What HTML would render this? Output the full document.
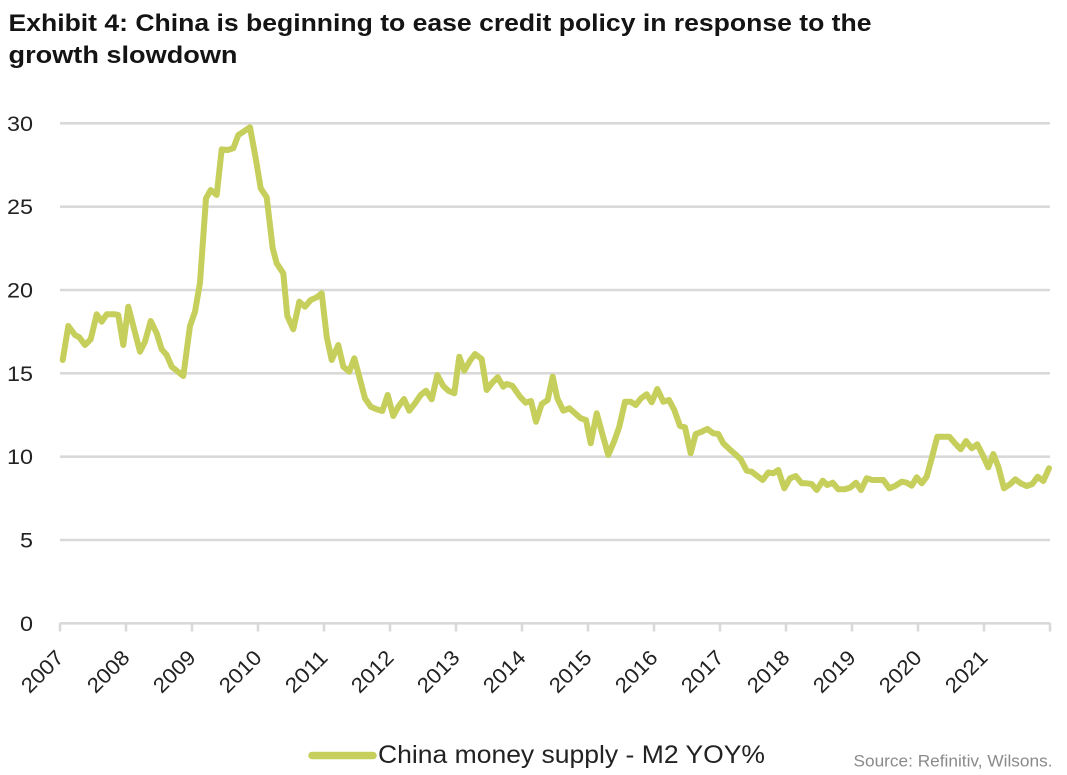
<!DOCTYPE html>
<html>
<head>
<meta charset="utf-8">
<style>
  html, body { margin:0; padding:0; background:#ffffff; }
  body { width:1067px; height:775px; overflow:hidden; }
  svg { display:block; }
  text { font-family: "Liberation Sans", "DejaVu Sans", sans-serif; }
</style>
</head>
<body>
<svg width="1067" height="775" viewBox="0 0 1067 775" xmlns="http://www.w3.org/2000/svg">
  <rect x="0" y="0" width="1067" height="775" fill="#ffffff"/>

  <!-- Title -->
  <text x="8.5" y="31" font-size="24" font-weight="bold" fill="#141414" textLength="863" lengthAdjust="spacingAndGlyphs">Exhibit 4: China is beginning to ease credit policy in response to the</text>
  <text x="8.5" y="63" font-size="24" font-weight="bold" fill="#141414" textLength="229" lengthAdjust="spacingAndGlyphs">growth slowdown</text>

  <!-- Gridlines -->
  <g stroke="#d9d9d9" stroke-width="2.6" fill="none">
    <line x1="60" y1="123.3" x2="1050" y2="123.3"/>
    <line x1="60" y1="206.7" x2="1050" y2="206.7"/>
    <line x1="60" y1="290" x2="1050" y2="290"/>
    <line x1="60" y1="373.3" x2="1050" y2="373.3"/>
    <line x1="60" y1="456.7" x2="1050" y2="456.7"/>
    <line x1="60" y1="540" x2="1050" y2="540"/>
    <line x1="60" y1="623.3" x2="1050" y2="623.3"/>
  </g>
  <!-- X ticks -->
  <g stroke="#d9d9d9" stroke-width="2.6">
    <line x1="60" y1="623" x2="60" y2="631.5"/>
    <line x1="126" y1="623" x2="126" y2="631.5"/>
    <line x1="192" y1="623" x2="192" y2="631.5"/>
    <line x1="258" y1="623" x2="258" y2="631.5"/>
    <line x1="324" y1="623" x2="324" y2="631.5"/>
    <line x1="390" y1="623" x2="390" y2="631.5"/>
    <line x1="456" y1="623" x2="456" y2="631.5"/>
    <line x1="522" y1="623" x2="522" y2="631.5"/>
    <line x1="588" y1="623" x2="588" y2="631.5"/>
    <line x1="654" y1="623" x2="654" y2="631.5"/>
    <line x1="720" y1="623" x2="720" y2="631.5"/>
    <line x1="786" y1="623" x2="786" y2="631.5"/>
    <line x1="852" y1="623" x2="852" y2="631.5"/>
    <line x1="918" y1="623" x2="918" y2="631.5"/>
    <line x1="984" y1="623" x2="984" y2="631.5"/>
    <line x1="1050" y1="623" x2="1050" y2="631.5"/>
  </g>

  <!-- Y labels -->
  <g font-size="21" fill="#222222" text-anchor="end">
    <text x="33" y="130.8" textLength="26" lengthAdjust="spacingAndGlyphs">30</text>
    <text x="33" y="214.2" textLength="26" lengthAdjust="spacingAndGlyphs">25</text>
    <text x="33" y="297.5" textLength="26" lengthAdjust="spacingAndGlyphs">20</text>
    <text x="33" y="380.8" textLength="26" lengthAdjust="spacingAndGlyphs">15</text>
    <text x="33" y="464.2" textLength="26" lengthAdjust="spacingAndGlyphs">10</text>
    <text x="33" y="547.5" textLength="13" lengthAdjust="spacingAndGlyphs">5</text>
    <text x="33" y="630.8" textLength="13" lengthAdjust="spacingAndGlyphs">0</text>
  </g>

  <!-- X labels -->
  <g font-size="21" fill="#222222" text-anchor="middle">
    <text transform="translate(42,671.3) rotate(-45)" x="0" y="7.5" textLength="50" lengthAdjust="spacingAndGlyphs">2007</text>
    <text transform="translate(108,671.3) rotate(-45)" x="0" y="7.5" textLength="50" lengthAdjust="spacingAndGlyphs">2008</text>
    <text transform="translate(174,671.3) rotate(-45)" x="0" y="7.5" textLength="50" lengthAdjust="spacingAndGlyphs">2009</text>
    <text transform="translate(240,671.3) rotate(-45)" x="0" y="7.5" textLength="50" lengthAdjust="spacingAndGlyphs">2010</text>
    <text transform="translate(306,671.3) rotate(-45)" x="0" y="7.5" textLength="50" lengthAdjust="spacingAndGlyphs">2011</text>
    <text transform="translate(372,671.3) rotate(-45)" x="0" y="7.5" textLength="50" lengthAdjust="spacingAndGlyphs">2012</text>
    <text transform="translate(438,671.3) rotate(-45)" x="0" y="7.5" textLength="50" lengthAdjust="spacingAndGlyphs">2013</text>
    <text transform="translate(504,671.3) rotate(-45)" x="0" y="7.5" textLength="50" lengthAdjust="spacingAndGlyphs">2014</text>
    <text transform="translate(570,671.3) rotate(-45)" x="0" y="7.5" textLength="50" lengthAdjust="spacingAndGlyphs">2015</text>
    <text transform="translate(636,671.3) rotate(-45)" x="0" y="7.5" textLength="50" lengthAdjust="spacingAndGlyphs">2016</text>
    <text transform="translate(702,671.3) rotate(-45)" x="0" y="7.5" textLength="50" lengthAdjust="spacingAndGlyphs">2017</text>
    <text transform="translate(768,671.3) rotate(-45)" x="0" y="7.5" textLength="50" lengthAdjust="spacingAndGlyphs">2018</text>
    <text transform="translate(834,671.3) rotate(-45)" x="0" y="7.5" textLength="50" lengthAdjust="spacingAndGlyphs">2019</text>
    <text transform="translate(900,671.3) rotate(-45)" x="0" y="7.5" textLength="50" lengthAdjust="spacingAndGlyphs">2020</text>
    <text transform="translate(966,671.3) rotate(-45)" x="0" y="7.5" textLength="50" lengthAdjust="spacingAndGlyphs">2021</text>
  </g>

  <!-- Series -->
  <polyline fill="none" stroke="#c6cf5c" stroke-width="6" stroke-linejoin="round" stroke-linecap="round"
    points="62.7,360 68.3,326 75,335 79.3,337.3 85,345 90.7,339.3 96.7,314.3 101.7,321.7 106.7,314.3 115,314.3 118.3,315 123.3,345 128.3,306.7 140,351.7 145,341.7 150.7,321 156.7,333.3 161.7,349.3 166.7,355 171.7,366.7 176.7,370.7 183.3,376 190,326 195,311.7 200,282.7 206,198.3 210.7,190 216.7,195 221.7,149.3 227.7,150 233.3,148.3 238.3,135 243.3,131.7 250,127.3 256,160 260.7,188.3 266.7,197.3 272.7,248.3 276.7,263.3 283.3,273.3 287.3,316 293.3,329.3 299.3,301.7 305,306.7 310.7,300 316.7,297.3 321.7,293.3 326.7,336.7 331.7,360 338.3,345 343.3,366.7 349.3,371.7 354.3,358.3 359.3,376.7 365,398.3 370.7,406.7 376.7,409.3 382.3,411 387.7,395 393.3,416 398.3,406.7 404,399 409.3,410.7 415,403.3 420.7,395 426,390.7 431.7,399.3 437.3,375 443.3,386 448.3,390.7 454.3,393.3 459.3,356.7 464.3,370.7 470,360.7 475,354 481.7,359 486.7,390 492.3,382.7 497.7,377.3 503.3,386.7 506.7,384 512.3,385.7 520,396.7 525.7,402.7 531,401 536,421.7 541.7,404 547.7,400 552.7,376.7 557.3,398.3 563.3,410.7 569.3,408.3 575,413.3 580.7,418.3 586,420 590.7,443.3 596.7,413.3 601.7,431.7 608.3,455 614,441.7 619.3,426.7 625,401.7 630.7,401.7 635.7,405 641,398.3 646.7,394.3 651.7,402.3 657.3,389 663.3,401.7 669,400 674.3,410 680,426 685,427.3 690.7,453.3 695.7,434 701.7,431.7 707.3,429 713.3,433.3 718.3,434 723.3,443.3 729.3,449 735,454 740.7,459.3 746.7,470.7 751.7,471.7 757.3,476 762.7,480 768.3,472.5 773.3,473.3 778.3,470 784.3,488.3 790,478.3 795.7,476 801.7,483.3 806.7,483.3 811.7,484 816.7,490 822.7,480.7 827.3,485 832.7,482.7 838.3,489.3 844.3,489.3 850,487.7 856,482.7 861,490 866.7,478.3 872.3,480 877.7,480 883.3,480 889.3,488.3 895,486 901.7,481.7 906.7,482.7 911.7,485.7 916.7,477.3 921.7,483.3 926.7,476.7 931.7,458.3 937.3,436.7 943.3,436.7 949.3,436.7 955,443.3 960.7,449.3 966,441 971.7,448.3 977.3,444.3 982.7,455 988.3,467.3 993.3,454 998.3,466.7 1004,488.3 1010,484.3 1015.3,479.3 1020.7,483.3 1026.7,486 1032.3,484 1037.7,476.7 1043.3,481 1049,468.3"/>

  <!-- Legend -->
  <line x1="312" y1="755.5" x2="373" y2="755.5" stroke="#c6cf5c" stroke-width="7.5" stroke-linecap="round"/>
  <text x="378" y="763" font-size="25" fill="#222222" textLength="387" lengthAdjust="spacingAndGlyphs">China money supply - M2 YOY%</text>

  <!-- Source -->
  <text x="853.5" y="766.5" font-size="17" fill="#8a8a8a" textLength="199" lengthAdjust="spacingAndGlyphs">Source: Refinitiv, Wilsons.</text>
</svg>
</body>
</html>
